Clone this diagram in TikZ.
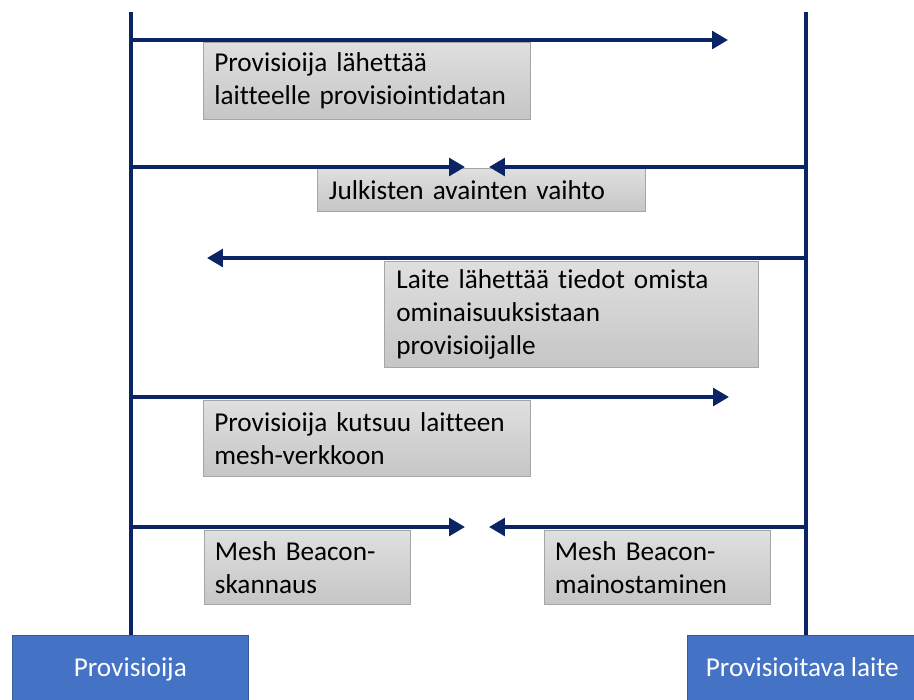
\documentclass[tikz,border=0pt]{standalone}
\usepackage{fontspec}
\setmainfont{Carlito}[WordSpace=0.85, Ligatures=NoCommon]
\usepackage{tikz}
\usetikzlibrary{arrows.meta}

\definecolor{navy}{HTML}{0A2466}
\definecolor{actorblue}{HTML}{4472C4}
\definecolor{boxedge}{HTML}{A6A6A6}

\begin{document}
\begin{tikzpicture}[x=0.02cm, y=-0.02cm,
	actor/.style={draw=actorblue!80!black, fill=actorblue, text=white, font=\fontsize{15.5}{19}\selectfont,
		minimum height=1.3cm, inner sep=0pt, anchor=north west, text depth=0.1ex},
	step box/.style={draw=boxedge, top color=gray!25, bottom color=gray!45, anchor=north west,
		align=left, inner xsep=6pt, inner ysep=0pt, font=\fontsize{15.5}{18.6}\selectfont},
	msg/.style={-{Triangle[length=9pt, width=10pt]}, navy, line width=2pt},
	life/.style={navy, line width=2.6pt}]
	\useasboundingbox (0,0) rectangle (914,700);

	% actors
	\node[actor, minimum width=4.72cm] (prov) at (12,635) {Provisioija};
	\node[actor, minimum width=4.6cm] (dev) at (687,635) {Provisioitava laite};
	\coordinate (provtop) at (131,12);
	\coordinate (devtop) at (806,12);
	\draw[life] (provtop) -- (provtop |- prov.north);
	\draw[life] (devtop) -- (devtop |- dev.north);

	% message boxes
	\node[step box, minimum width=6.54cm, minimum height=1.54cm, text width=6.1cm] (m1) at (203,42)
		{Provisioija lähettää\\laitteelle provisiointidatan};
	\node[step box, minimum width=6.56cm, minimum height=0.86cm, text width=6.1cm] (m2) at (317,168)
		{Julkisten avainten vaihto};
	\node[step box, minimum width=7.48cm, minimum height=2.12cm, text width=7.0cm] (m3) at (384,261)
		{Laite lähettää tiedot omista\\ominaisuuksistaan\\provisioijalle};
	\node[step box, minimum width=6.54cm, minimum height=1.52cm, text width=6.1cm] (m4) at (203,400)
		{Provisioija kutsuu laitteen\\mesh-verkkoon};
	\node[step box, minimum width=4.1cm, minimum height=1.48cm, text width=3.7cm] (m5a) at (204,530)
		{Mesh Beacon-\\skannaus};
	\node[step box, minimum width=4.52cm, minimum height=1.48cm, text width=4.1cm] (m5b) at (544,530)
		{Mesh Beacon-\\mainostaminen};

	% arrows
	\coordinate (a1) at (provtop |- 0,40);
	\coordinate (e1) at (728,40);
	\draw[msg] (a1) -- (e1);

	\coordinate (a2) at (provtop |- 0,167);
	\coordinate (b2) at (devtop |- 0,167);
	\coordinate (e2a) at (465,167);
	\coordinate (e2b) at (489,167);
	\draw[msg] (a2) -- (e2a);
	\draw[msg] (b2) -- (e2b);

	\coordinate (b3) at (devtop |- 0,258);
	\coordinate (e3) at (207,258);
	\draw[msg] (b3) -- (e3);

	\coordinate (a4) at (provtop |- 0,397);
	\coordinate (e4) at (729,397);
	\draw[msg] (a4) -- (e4);

	\coordinate (a5) at (provtop |- 0,527);
	\coordinate (b5) at (devtop |- 0,527);
	\coordinate (e5a) at (465,527);
	\coordinate (e5b) at (489,527);
	\draw[msg] (a5) -- (e5a);
	\draw[msg] (b5) -- (e5b);
\end{tikzpicture}
\end{document}
